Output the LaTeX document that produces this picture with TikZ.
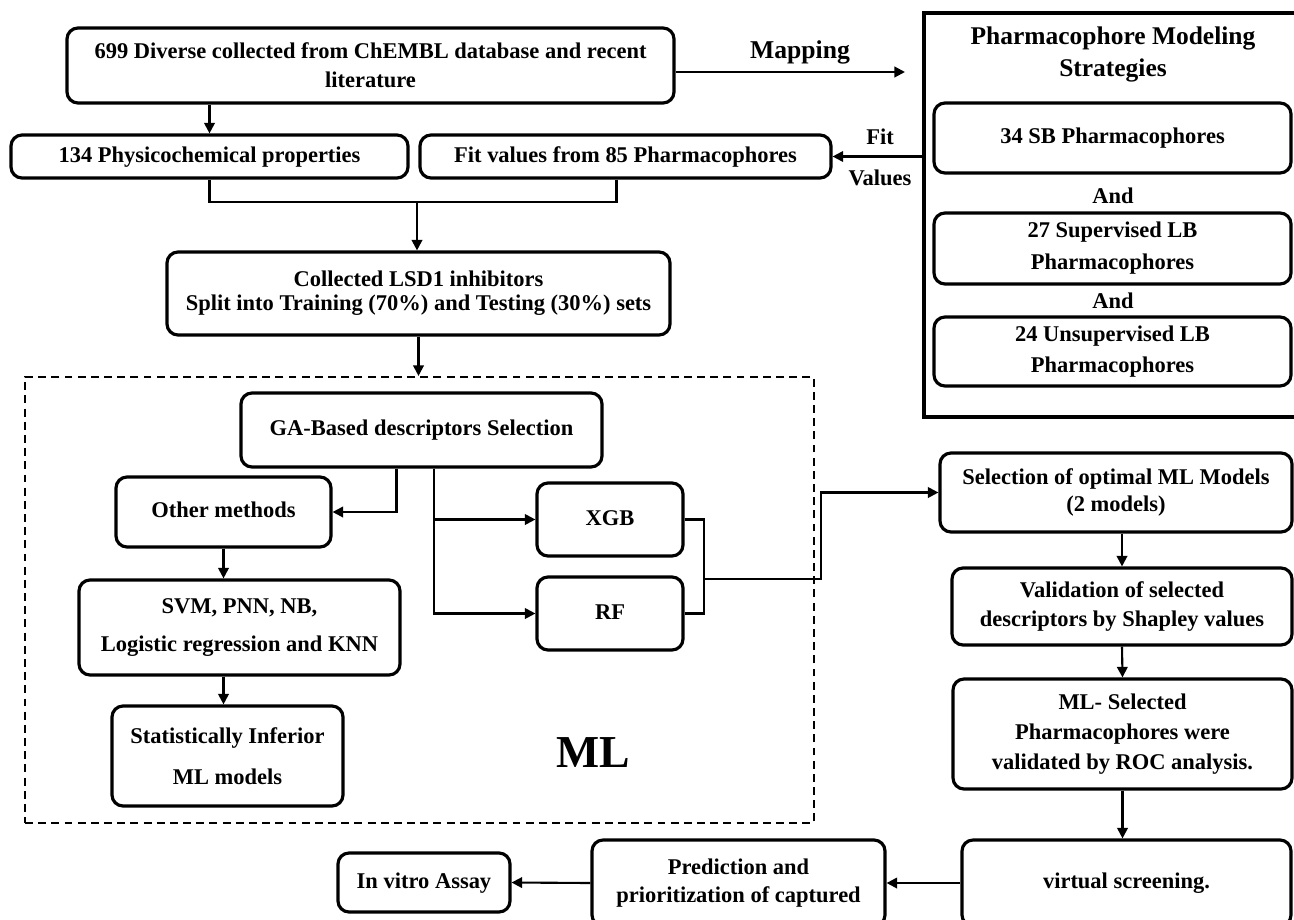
\documentclass[tikz,border=0pt]{standalone}
\usepackage{fontspec}
\setmainfont{Liberation Serif}
\usetikzlibrary{arrows.meta,calc}

% rounded flow box given by its corners (in px units of the picture)
\newcommand\flowbox[7][]{%
  \node[box,#1,minimum width={(#5-#3)*0.02cm},minimum height={(#6-#4)*0.02cm}]
    (#2) at ({(#3+#5)/2},{(#4+#6)/2}) {#7};}

\begin{document}
\begin{tikzpicture}[x=0.02cm,y=-0.02cm,
  box/.style={draw,rounded corners=0.22cm,line width=1.8pt,align=center,
    inner sep=0pt,font=\bfseries\fontsize{12.8}{16.5}\selectfont},
  oneline/.style={text height=0.66em,text depth=0.02em},
  link/.style={line width=1.2pt},
  arr/.style={link,-{Triangle[length=6pt,width=6pt]}},
  lbl/.style={inner sep=0pt,align=center,font=\bfseries\fontsize{12.8}{15}\selectfont}]
\useasboundingbox (0,0) rectangle (1294,919);
\clip (0,0) rectangle (1294,919);

% ---- data collection ----
\flowbox{b1}{67}{28}{674}{103}{699 Diverse collected from ChEMBL database and recent\\literature}
\flowbox[oneline]{b2}{11}{135}{408}{178}{134 Physicochemical properties}
\flowbox[oneline]{b3}{420}{135}{831}{178}{Fit values from 85 Pharmacophores}
\flowbox[font=\bfseries\fontsize{12.8}{13.7}\selectfont]{b4}{167}{252}{670}{335}{Collected LSD1 inhibitors\\Split into Training (70\%) and Testing (30\%) sets}

% ---- pharmacophore strategies ----
\node[draw,line width=1.8pt,minimum width={(1300-924)*0.02cm},minimum height={(417-13)*0.02cm}]
  (pm) at (1112,215) {};
\node[lbl,font=\bfseries\fontsize{14.5}{18.2}\selectfont] (pmt) at (1113,54) {Pharmacophore Modeling\\Strategies};
\flowbox[oneline]{sb}{934}{103}{1291}{173}{34 SB Pharmacophores}
\node[lbl] (and1) at (1113,196) {And};
\flowbox[font=\bfseries\fontsize{12.8}{18.2}\selectfont]{sup}{934}{213}{1291}{284}{27 Supervised LB\\Pharmacophores}
\node[lbl] (and2) at (1113,301) {And};
\flowbox[font=\bfseries\fontsize{12.8}{17.6}\selectfont]{uns}{934}{317}{1291}{386}{24 Unsupervised LB\\Pharmacophores}

\coordinate (mapend) at (905,72);
\draw[arr] (b1.east |- mapend) -- (mapend);
\node[lbl,font=\bfseries\fontsize{14.6}{17}\selectfont] (maplbl) at (800,52) {Mapping};
\draw[arr] (pm.west |- b3.east) -- (b3.east);
\node[lbl] (fit) at (880,137) {Fit};
\node[lbl] (val) at (880,178) {Values};

% ---- merging into the data set ----
\coordinate (j1) at (417,202);
\draw[arr] (b1.south -| b2.north) -- (b2.north);
\draw[link] (b2.south) |- (j1) -| ([xshift=-0.18cm]b3.south);
\draw[arr] (j1) -- (j1 |- b4.north);

% ---- ML zone ----
\node[draw,line width=1.2pt,dash pattern=on 4.5pt off 3pt,
  minimum width={(814-25)*0.02cm},minimum height={(823-377)*0.02cm}]
  (ml) at ({(25+814)/2},{(377+823)/2}) {};
\draw[arr] (b4.south) -- (b4.south |- ml.north);

\flowbox[oneline]{ga}{241}{393}{602}{467}{GA-Based descriptors Selection}
\flowbox[oneline]{om}{116}{477}{331}{547}{Other methods}
\flowbox[oneline]{xgb}{537}{483}{683}{556}{XGB}
\flowbox[oneline]{rf}{537}{577}{683}{650}{RF}
\flowbox[font=\bfseries\fontsize{12.8}{22}\selectfont]{svm}{79}{580}{400}{675}{SVM, PNN, NB,\\Logistic regression and KNN}
\flowbox[font=\bfseries\fontsize{12.8}{23}\selectfont]{stat}{112}{706}{343}{806}{Statistically Inferior\\ML models}
\node[lbl,font=\bfseries\fontsize{26}{30}\selectfont] (mltxt) at (593,753) {ML};

\draw[arr] ([xshift=-0.5cm]ga.south) |- (om.east);
\draw[arr] ([xshift=0.25cm]ga.south) |- (xgb.west);
\draw[arr] ([xshift=0.25cm]ga.south) |- (rf.west);
\draw[arr] (om.south) -- (om.south |- svm.north);
\draw[arr] (svm.south -| om.south) -- (om.south |- stat.north);

% ---- model selection and screening ----
\flowbox[font=\bfseries\fontsize{12.8}{15.2}\selectfont]{sel}{940}{453}{1292}{532}{Selection of optimal ML Models\\(2 models)}
\flowbox[font=\bfseries\fontsize{12.8}{16.3}\selectfont]{vald}{952}{568}{1292}{645}{Validation of selected\\descriptors by Shapley values}
\flowbox[font=\bfseries\fontsize{12.8}{17}\selectfont]{mls}{953}{679}{1292}{789}{ML- Selected\\Pharmacophores were\\validated by ROC analysis.}
\flowbox[oneline]{vs}{962}{840}{1291}{926}{virtual screening.}
\flowbox[font=\bfseries\fontsize{12.8}{16}\selectfont]{pred}{592}{840}{885}{926}{Prediction and\\prioritization of captured}
\flowbox[oneline]{iv}{338}{853}{510}{912}{In vitro Assay}

\coordinate (br) at (704,579);
\coordinate (turn) at (821,579);
\draw[link] (xgb.east) -| (br) |- (rf.east);
\draw[arr] (br) -- (turn) |- (sel.west);

\draw[arr] (sel.south -| vald.north) -- (vald.north);
\draw[arr] (vald.south) -- (mls.north);
\draw[arr] (mls.south) -- (mls.south |- vs.north);
\draw[arr] (vs.west) -- (pred.east);
\draw[arr] (pred.west) -- (iv.east);
\end{tikzpicture}
\end{document}
